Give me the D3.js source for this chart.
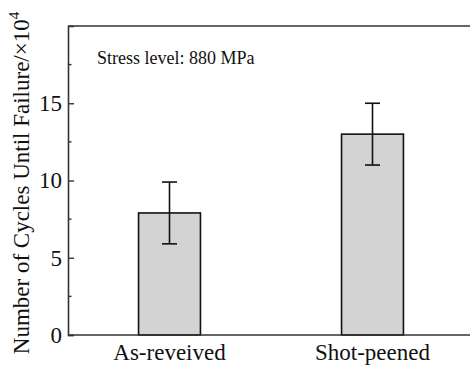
<!DOCTYPE html>
<html>
<head>
<meta charset="utf-8">
<script src="https://cdn.jsdelivr.net/npm/d3@7"></script>
<style>
  body { margin: 0; background: #fff; }
  svg { display: block; font-family: "Liberation Serif", "Times New Roman", serif; }
</style>
</head>
<body>
<div id="chart"></div>
<script>
// data
const categories = ['As-reveived', 'Shot-peened'];
const cycles = [7.9, 13.0];       // ×10^4
const cycleErr = [2.0, 2.0];
const yTicks = [0, 5, 10, 15];
const note = 'Stress level: 880 MPa';

const width = 470, height = 365;
const margin = { top: 26, right: -4, bottom: 30, left: 68 };

const svg = d3.select('#chart').append('svg')
    .attr('width', width)
    .attr('height', height);

const x = d3.scaleBand()
    .domain(categories)
    .range([margin.left, width - margin.right])
    .paddingInner(0.695)
    .paddingOuter(0.3475);

const y = d3.scaleLinear()
    .domain([0, 20])
    .range([height - margin.bottom, margin.top]);

const plot = svg.append('g');

// bars
plot.selectAll('rect.bar')
    .data(categories)
    .enter().append('rect')
    .attr('class', 'bar')
    .attr('x', d => x(d))
    .attr('width', x.bandwidth())
    .attr('y', (d, i) => y(cycles[i]))
    .attr('height', (d, i) => y(0) - y(cycles[i]))
    .attr('fill', '#d3d3d3')
    .attr('stroke', '#111')
    .attr('stroke-width', 1.6);

// error bars
const err = plot.selectAll('g.err')
    .data(categories)
    .enter().append('g')
    .attr('class', 'err')
    .attr('stroke', '#111')
    .attr('stroke-width', 1.6);

const cx = d => x(d) + x.bandwidth() / 2;
err.append('line')
    .attr('x1', cx).attr('x2', cx)
    .attr('y1', (d, i) => y(cycles[i] + cycleErr[i]))
    .attr('y2', (d, i) => y(cycles[i] - cycleErr[i]));
err.append('line')
    .attr('x1', d => cx(d) - 7.5).attr('x2', d => cx(d) + 7.5)
    .attr('y1', (d, i) => y(cycles[i] + cycleErr[i]))
    .attr('y2', (d, i) => y(cycles[i] + cycleErr[i]));
err.append('line')
    .attr('x1', d => cx(d) - 7.5).attr('x2', d => cx(d) + 7.5)
    .attr('y1', (d, i) => y(cycles[i] - cycleErr[i]))
    .attr('y2', (d, i) => y(cycles[i] - cycleErr[i]));

// frame: top and bottom (right side is off the picture)
const frame = svg.append('g')
    .attr('stroke', '#333')
    .attr('stroke-width', 1.6)
    .attr('fill', 'none');
frame.append('line').attr('x1', margin.left).attr('x2', width)
    .attr('y1', y(0)).attr('y2', y(0));
frame.append('line').attr('x1', margin.left).attr('x2', width)
    .attr('y1', y(20)).attr('y2', y(20));

// y axis, ticks inside
const yAxis = svg.append('g')
    .attr('transform', `translate(${margin.left},0)`)
    .call(d3.axisLeft(y).tickValues(yTicks).tickSize(-6).tickPadding(6).tickFormat(d3.format('d')));
yAxis.attr('font-family', null).attr('font-size', null);
yAxis.select('.domain').attr('stroke', '#333').attr('stroke-width', 1.6);
yAxis.selectAll('.tick line').attr('stroke', '#333').attr('stroke-width', 1.4);
yAxis.selectAll('.tick text')
    .attr('font-size', 23)
    .attr('fill', '#111');

// minor ticks
svg.append('g')
    .selectAll('line')
    .data(d3.range(2.5, 20, 5))
    .enter().append('line')
    .attr('x1', margin.left).attr('x2', margin.left + 3.5)
    .attr('y1', d => y(d)).attr('y2', d => y(d))
    .attr('stroke', '#333').attr('stroke-width', 1.4);

// x labels
svg.append('g')
    .selectAll('text')
    .data(categories)
    .enter().append('text')
    .attr('x', cx)
    .attr('y', y(0) + 25)
    .attr('text-anchor', 'middle')
    .attr('font-size', 23)
    .attr('fill', '#111')
    .text(d => d);

// y label
const yl = svg.append('text')
    .attr('transform', 'translate(29,183) rotate(-90)')
    .attr('text-anchor', 'middle')
    .attr('font-size', 23)
    .attr('fill', '#111');
yl.append('tspan').text('Number of Cycles Until Failure/×10');
yl.append('tspan').attr('font-size', 15).attr('dy', -10).text('4');

// annotation
svg.append('text')
    .attr('x', 97)
    .attr('y', 64)
    .attr('font-size', 18)
    .attr('fill', '#111')
    .text(note);
</script>
</body>
</html>
